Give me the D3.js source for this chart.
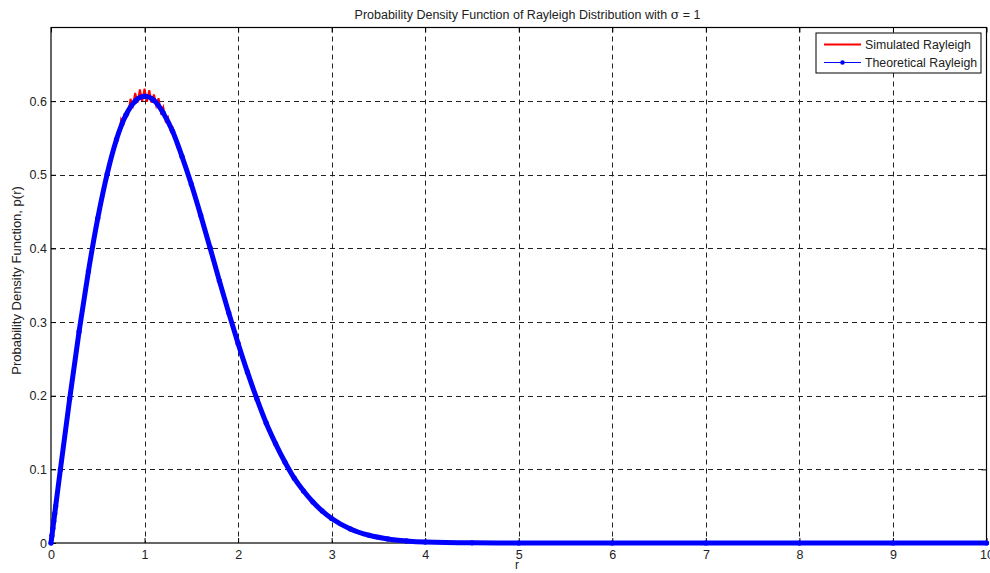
<!DOCTYPE html>
<html>
<head>
<meta charset="utf-8">
<script src="https://cdn.jsdelivr.net/npm/d3@7"></script>
<style>
  body { margin: 0; background: #fff; }
  svg { display: block; font-family: "Liberation Sans", Arial, Helvetica, sans-serif; }
</style>
</head>
<body>
<div id="chart"></div>
<script>
// values
var xTicks = [0, 1, 2, 3, 4, 5, 6, 7, 8, 9, 10];
var yTicks = [0, 0.1, 0.2, 0.3, 0.4, 0.5, 0.6];

// theoretical curve (blue, dotted markers)
var theoR = [0, 0.01, 0.02, 0.03, 0.04, 0.05, 0.1, 0.2, 0.3, 0.4, 0.5, 0.6, 0.7, 0.8, 0.9, 1.0,
  1.1, 1.2, 1.3, 1.4, 1.5, 1.6, 1.7, 1.8, 1.9, 2.0, 2.1, 2.2, 2.3, 2.4, 2.5, 2.6, 2.7, 2.8, 2.9, 3.0,
  3.2, 3.4, 3.6, 3.8, 4.0, 4.5, 5, 6, 7, 8, 9, 10];
var theoP = [0, 0.010, 0.020, 0.030, 0.040, 0.050, 0.0995, 0.196, 0.287, 0.369, 0.441, 0.501, 0.548, 0.581, 0.600, 0.6065,
  0.601, 0.584, 0.559, 0.525, 0.487, 0.445, 0.401, 0.356, 0.3125, 0.271, 0.232, 0.196, 0.163, 0.135, 0.110, 0.088, 0.0705, 0.0556, 0.0433, 0.0333,
  0.0191, 0.0105, 0.0055, 0.0028, 0.0013, 0.0002, 0, 0, 0, 0, 0, 0];

// simulated curve (red, noisy histogram estimate)
var simR = [0, 0.1, 0.2, 0.3, 0.4, 0.5, 0.6, 0.65, 0.7, 0.725, 0.75, 0.775, 0.8, 0.825, 0.85, 0.875, 0.9, 0.925, 0.95, 0.975,
  1.0, 1.025, 1.05, 1.075, 1.1, 1.125, 1.15, 1.175, 1.2, 1.225, 1.25, 1.275, 1.3, 1.35, 1.4, 1.5, 1.6, 1.7, 1.8, 1.9,
  2.0, 2.1, 2.2, 2.3, 2.4, 2.5, 2.6, 2.7, 2.8, 2.9, 3.0, 3.2, 3.4, 3.6, 3.8, 4.0, 4.5, 5, 6, 7, 8, 8.85];
var simP = [0, 0.101, 0.198, 0.285, 0.371, 0.443, 0.503, 0.522, 0.551, 0.553, 0.575, 0.569, 0.584, 0.582, 0.603, 0.594, 0.611, 0.598, 0.616, 0.600,
  0.617, 0.599, 0.615, 0.598, 0.609, 0.594, 0.604, 0.585, 0.592, 0.573, 0.578, 0.561, 0.564, 0.537, 0.528, 0.489, 0.443, 0.398, 0.357, 0.311,
  0.272, 0.230, 0.198, 0.161, 0.137, 0.108, 0.089, 0.0725, 0.055, 0.044, 0.033, 0.019, 0.0105, 0.0055, 0.0028, 0.0013, 0.0002, 0, 0, 0, 0, 0];

var titleText = "Probability Density Function of Rayleigh Distribution with ";
var xLabel = "r";
var yLabel = "Probability Density Function, p(r)";
var legendNames = ["Simulated Rayleigh", "Theoretical Rayleigh"];

var W = 990, H = 573;
var margin = {top: 27.5, right: 3, bottom: 30, left: 51};

var svg = d3.select("#chart").append("svg")
    .attr("width", W)
    .attr("height", H);

var x = d3.scaleLinear().domain([0, 10]).range([margin.left, W - margin.right - 0.5]);
var y = d3.scaleLinear().domain([0, 0.7]).range([H - margin.bottom, margin.top]);

var x0 = x.range()[0], x1 = x.range()[1], y0 = y.range()[0], y1 = y.range()[1];

// grid
var grid = svg.append("g").attr("class", "grid")
    .attr("stroke", "#222")
    .attr("stroke-width", 1)
    .attr("stroke-dasharray", "5,4");
grid.selectAll("line.v").data(xTicks.slice(1, -1)).enter().append("line")
    .attr("x1", function(d) { return Math.round(x(d)) + 0.5; })
    .attr("x2", function(d) { return Math.round(x(d)) + 0.5; })
    .attr("y1", y1).attr("y2", y0);
grid.selectAll("line.h").data(yTicks.slice(1)).enter().append("line")
    .attr("y1", function(d) { return Math.round(y(d)) + 0.5; })
    .attr("y2", function(d) { return Math.round(y(d)) + 0.5; })
    .attr("x1", x0).attr("x2", x1);

// axes (inward ticks, MATLAB style)
svg.append("g")
    .attr("transform", "translate(0," + y0 + ")")
    .call(d3.axisBottom(x).tickValues(xTicks).tickSize(-5).tickPadding(7).tickFormat(d3.format("d")));
svg.append("g")
    .attr("transform", "translate(" + x0 + ",0)")
    .call(d3.axisLeft(y).tickValues(yTicks).tickSize(-5).tickPadding(4).tickFormat(function(d) { return d === 0 ? "0" : d3.format(".1f")(d); }));
svg.append("g")
    .attr("transform", "translate(0," + y1 + ")")
    .call(d3.axisTop(x).tickValues(xTicks).tickSize(-5).tickFormat(""));
svg.append("g")
    .attr("transform", "translate(" + x1 + ",0)")
    .call(d3.axisRight(y).tickValues(yTicks).tickSize(-5).tickFormat(""));

svg.selectAll(".domain").remove();
svg.selectAll(".tick line").attr("stroke", "#000");
svg.selectAll(".tick text").attr("fill", "#222").style("font-size", "12.5px").style("font-family", "'Liberation Sans', Arial, sans-serif");

// box
svg.append("rect")
    .attr("x", x0).attr("y", y1)
    .attr("width", x1 - x0).attr("height", y0 - y1)
    .attr("fill", "none").attr("stroke", "#000").attr("stroke-width", 1.2);

// curves
var simData = simR.map(function(r, i) { return [r, simP[i]]; });
var theoData = theoR.map(function(r, i) { return [r, theoP[i]]; });

var line = d3.line()
    .x(function(d) { return x(d[0]); })
    .y(function(d) { return y(d[1]); });

svg.append("path")
    .datum(simData)
    .attr("d", line)
    .attr("fill", "none")
    .attr("stroke", "#ff0000")
    .attr("stroke-width", 2);

svg.append("path")
    .datum(theoData)
    .attr("d", line.curve(d3.curveMonotoneX))
    .attr("fill", "none")
    .attr("stroke", "#0000ff")
    .attr("stroke-width", 5)
    .attr("stroke-linejoin", "round")
    .attr("stroke-linecap", "round");

svg.append("g").selectAll("circle")
    .data(theoData)
    .enter().append("circle")
    .attr("cx", function(d) { return x(d[0]); })
    .attr("cy", function(d) { return y(d[1]); })
    .attr("r", 2.6)
    .attr("fill", "#0000ff");

// title
var title = svg.append("text")
    .attr("x", 527.5).attr("y", 19)
    .attr("text-anchor", "middle")
    .attr("fill", "#222")
    .style("font-size", "12.5px")
    .text(titleText);
title.append("tspan").style("font-family", "'DejaVu Serif', serif").text("σ");
title.append("tspan").text(" = 1");

// axis labels
svg.append("text")
    .attr("x", 517).attr("y", 569)
    .attr("text-anchor", "middle")
    .attr("fill", "#222")
    .style("font-size", "12px")
    .text(xLabel);

svg.append("text")
    .attr("transform", "translate(21,280.5) rotate(-90)")
    .attr("text-anchor", "middle")
    .attr("fill", "#222")
    .style("font-size", "13px")
    .text(yLabel);

// legend
var lg = svg.append("g").attr("transform", "translate(816,33)");
lg.append("rect")
    .attr("width", 165).attr("height", 40)
    .attr("fill", "#fff").attr("stroke", "#000").attr("stroke-width", 1);
var legColors = ["#ff0000", "#0000ff"];
legendNames.forEach(function(name, i) {
  var yy = 11.5 + i * 18;
  lg.append("line")
    .attr("x1", 8).attr("x2", 45)
    .attr("y1", yy).attr("y2", yy)
    .attr("stroke", legColors[i])
    .attr("stroke-width", i === 0 ? 2 : 1);
  if (i === 1) {
    lg.append("circle").attr("cx", 26.5).attr("cy", yy).attr("r", 2.3).attr("fill", legColors[i]);
  }
  lg.append("text")
    .attr("x", 49).attr("y", yy + 4.5)
    .attr("fill", "#222")
    .style("font-size", "12.3px")
    .text(name);
});
</script>
</body>
</html>
